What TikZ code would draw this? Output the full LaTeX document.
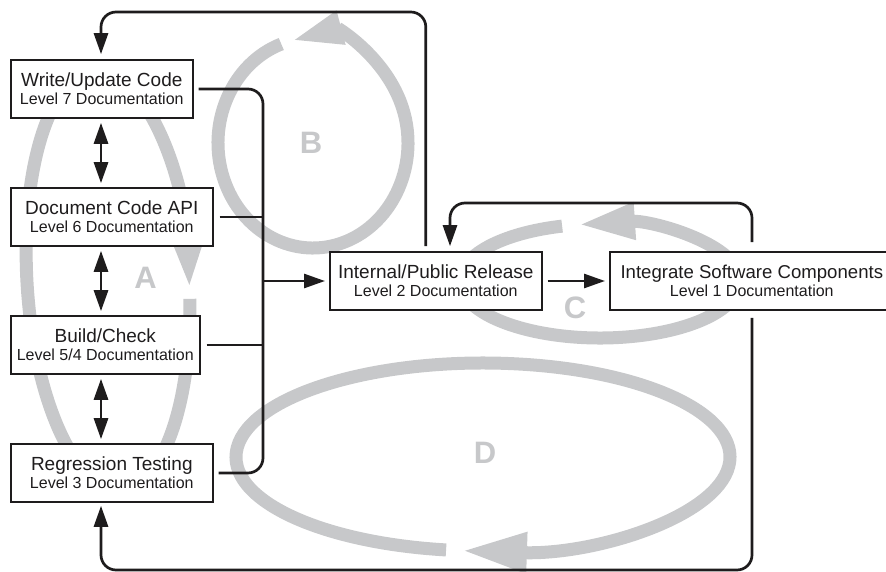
\documentclass[tikz,border=0pt]{standalone}
\usepackage{fontspec}
\setmainfont{Liberation Sans}
\usetikzlibrary{arrows.meta}
\definecolor{loopgray}{RGB}{199,200,202}
\definecolor{ink}{RGB}{30,28,29}
\begin{document}
\begin{tikzpicture}[x=1pt,y=-1pt,
  box/.style={draw=ink, line width=1.6pt, fill=white, inner sep=0pt, minimum height=58pt, align=center, font=\fontsize{16pt}{18pt}\selectfont, text=ink, anchor=west},
  conn/.style={draw=ink, line width=2.7pt, rounded corners=15pt},
  tip/.style={-{Triangle[length=21pt,width=14pt]}},
  dbl/.style={draw=ink, line width=2.8pt, {Triangle[length=21pt,width=14pt]}-{Triangle[length=21pt,width=14pt]}, shorten <=4pt, shorten >=4pt},
  gloop/.style={draw=loopgray, line width=13pt},
  glabel/.style={text=loopgray, font=\fontsize{31pt}{31pt}\selectfont\bfseries}
]
\useasboundingbox (0,0) rectangle (886,572);

% gray loops
\begin{scope}[rotate around={3.5:(108,280)}]
\draw[gloop, -{Triangle[length=44pt,width=25pt]}] (108,280) ++(6.5:81 and 210) arc[start angle=6.5, end angle=363.8, x radius=81, y radius=210];
\end{scope}
\draw[gloop, -{Triangle[length=52pt,width=31pt]}] (313,143) ++(250.5:95 and 105) arc[start angle=250.5, end angle=-103.5, x radius=95, y radius=105];
\draw[gloop, -{Triangle[length=57pt,width=34pt]}] (600,281) ++(254.3:140 and 57) arc[start angle=254.3, end angle=-99.04, x radius=140, y radius=57];
\draw[gloop, -{Triangle[length=65pt,width=38pt]}] (483,457) ++(98.6:247 and 94) arc[start angle=98.6, end angle=454.9, x radius=247, y radius=94];

\node[glabel] (la) at (145.5,277.5) {A};
\node[glabel] (lb) at (311,143) {B};
\node[glabel] (lc) at (575,308) {C};
\node[glabel] (ld) at (485,453) {D};

% boxes
\node[box, minimum width=182pt] (write) at (10,89) {{\fontsize{19pt}{18pt}\selectfont Write/Update Code}\\Level 7 Documentation};
\node[box, minimum width=202pt] (doc) at (10,217) {{\fontsize{19pt}{18pt}\selectfont Document Code API}\\Level 6 Documentation};
\node[box, minimum width=189pt] (build) at (10,345) {{\fontsize{19pt}{18pt}\selectfont Build/Check}\\Level 5/4 Documentation};
\node[box, minimum width=202pt] (regr) at (10,473) {{\fontsize{19pt}{18pt}\selectfont Regression Testing}\\Level 3 Documentation};
\node[box, minimum width=212pt] (rel) at (329,281) {{\fontsize{19pt}{18pt}\selectfont Internal/Public Release}\\Level 2 Documentation};
\node[box, minimum width=284pt] (integ) at (609,281) {{\fontsize{18.6pt}{18pt}\selectfont Integrate Software Components}\\Level 1 Documentation};

% helper coordinates
\coordinate (busx) at (263,0);
\coordinate (dx) at (101,0);
\coordinate (ytop) at (0,12);
\coordinate (ybot) at (0,570);
\coordinate (ctop) at (450,203);
\coordinate (cright) at (752,0);

% connectors
\draw[conn] ([xshift=5pt]write.east) -- (write.east -| busx) -- (regr.east -| busx) -- ([xshift=5pt]regr.east);
\draw[conn] ([xshift=6pt]doc.east) -- (doc.east -| busx);
\draw[conn] ([xshift=6pt]build.east) -- (build.east -| busx);
\draw[conn, tip, shorten >=4pt] (rel.west -| busx) -- (rel.west);
\draw[conn, tip, shorten <=5pt, shorten >=4pt] (rel.east) -- (integ.west);
\draw[conn, tip, shorten >=5pt] ([xshift=-10pt,yshift=5pt]rel.north) |- (dx |- ytop) -- (dx |- write.north);
\draw[conn, tip, shorten >=5pt] ([yshift=9pt]cright |- integ.north) |- (ctop) -- (ctop |- rel.north);
\draw[conn, tip, shorten >=3pt] ([yshift=-7pt]cright |- integ.south) |- (dx |- ybot) -- (dx |- regr.south);

\draw[dbl] (dx |- write.south) -- (dx |- doc.north);
\draw[dbl] (dx |- doc.south) -- (dx |- build.north);
\draw[dbl] (dx |- build.south) -- (dx |- regr.north);
\end{tikzpicture}
\end{document}
